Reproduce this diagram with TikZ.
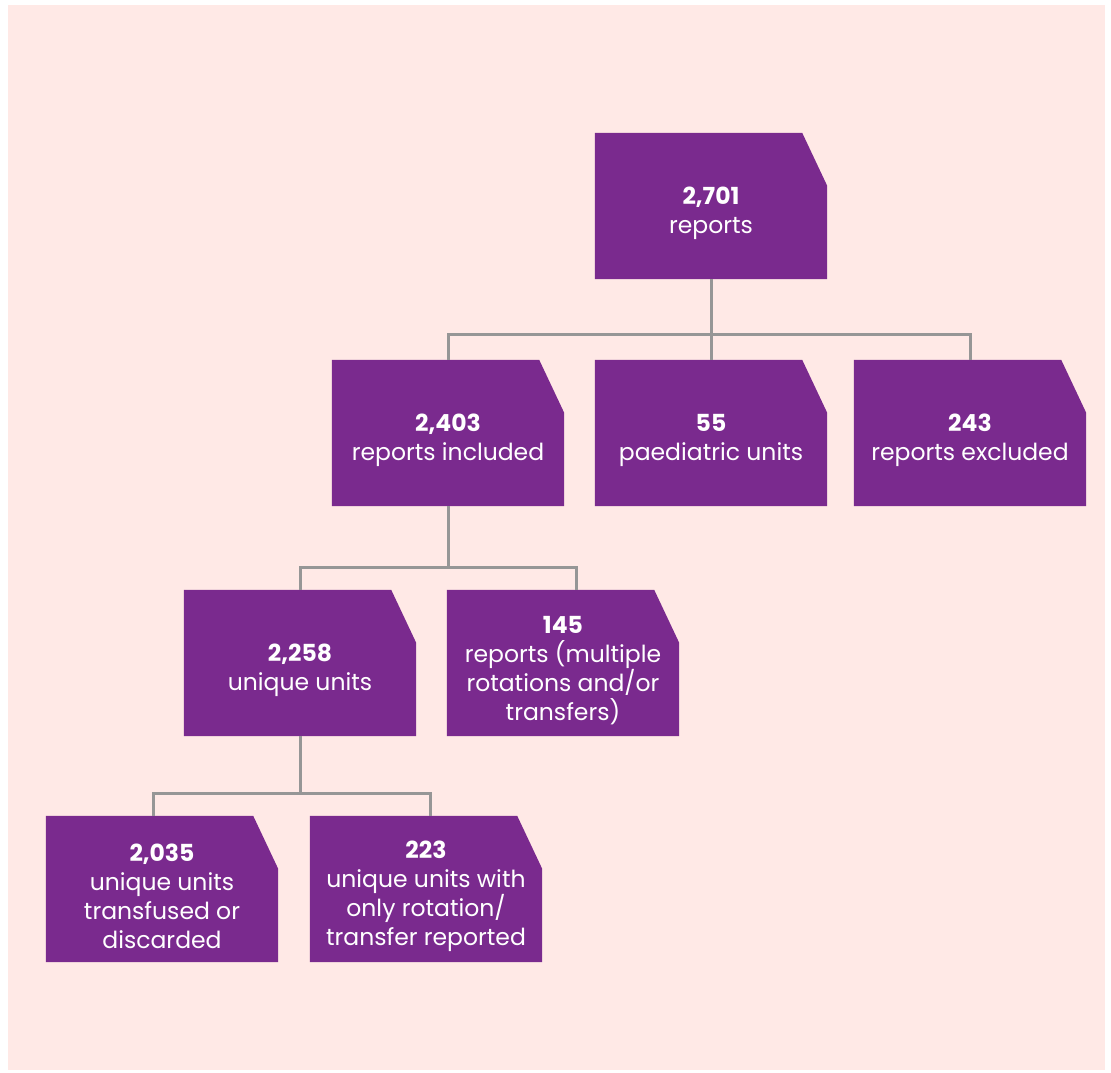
\documentclass[tikz,border=0pt]{standalone}
\usepackage{fontspec}
\setmainfont{Poppins}
\usetikzlibrary{backgrounds}
\definecolor{flowpurple}{RGB}{122,42,142}
\definecolor{flowpink}{RGB}{255,233,230}
\definecolor{flowgrey}{RGB}{150,150,150}
\tikzset{
  flowbox/.style={minimum width=232pt,minimum height=146pt,inner sep=0pt,align=center,text=white,font=\fontsize{23.5}{29}\selectfont},
  link/.style={draw=flowgrey,line width=3pt},
}
\newcommand{\flownum}[1]{\rule{0pt}{32pt}\textbf{#1}}
\newcommand{\cutbox}[1]{\fill[flowpurple] (#1.south west) -- (#1.north west) -- ([xshift=-25pt]#1.north east) -- ([yshift=-53pt]#1.north east) -- (#1.south east) -- cycle;}
\begin{document}
\begin{tikzpicture}[x=1pt,y=-1pt]
                \useasboundingbox (0,0) rectangle (1111,1072);
                \node[flowbox] (total) at (711,206) {\flownum{2,701}\\reports};
                \node[flowbox] (incl) at (448,433) {\flownum{2,403}\\reports included};
                \node[flowbox] (paed) at (711,433) {\flownum{55}\\paediatric units};
                \node[flowbox] (excl) at (970,433) {\flownum{243}\\reports excluded};
                \node[flowbox] (uniq) at (300,663) {\flownum{2,258}\\unique units};
                \node[flowbox] (multi) at (563,663) {\flownum{145}\\reports (multiple\\rotations and/or\\transfers)};
                \node[flowbox] (used) at (162,889) {\flownum{2,035}\\unique units\\transfused or\\discarded};
                \node[flowbox] (rot) at (426,889) {\flownum{223}\\unique units with\\only rotation/\\transfer reported};
                \begin{scope}[on background layer]
                    \fill[flowpink] (8,5) rectangle (1105,1070);
                    \foreach \n in {total,incl,paed,excl,uniq,multi,used,rot}
                        {\cutbox{\n}}
                \end{scope}
                \draw[link] (total.south) -- ++(0,55) -| (incl.north);
                \draw[link] (total.south) -- ++(0,55) -| (excl.north);
                \draw[link] (total.south) -- (paed.north);
                \draw[link] (incl.south) -- ++(0,61) -| (uniq.north);
                \draw[link] (incl.south) -- ++(0,61) -| ([xshift=13pt]multi.north);
                \draw[link] (uniq.south) -- ++(0,57) -| ([xshift=-9pt]used.north);
                \draw[link] (uniq.south) -- ++(0,57) -| ([xshift=4pt]rot.north);
\end{tikzpicture}
\end{document}
